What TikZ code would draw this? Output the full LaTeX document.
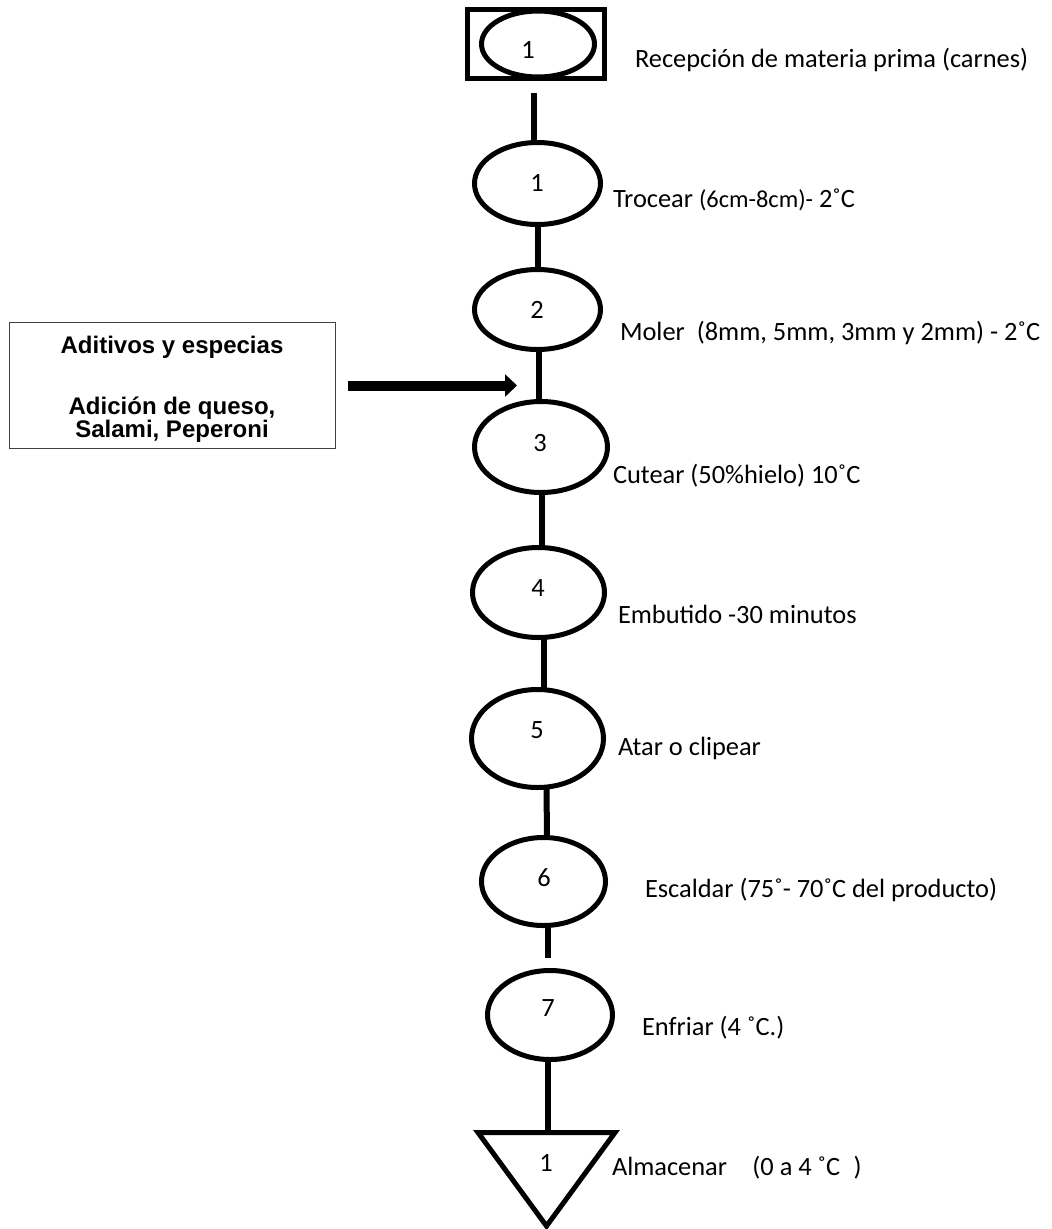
\documentclass[tikz,border=0pt]{standalone}
\usepackage{fontspec}
\setmainfont{Carlito}
\newfontfamily\boxfont{Liberation Sans}
\usetikzlibrary{shapes.geometric,arrows.meta,calc}
\tikzset{
  every node/.style={inner sep=0pt, outer sep=0pt},
  stepell/.style 2 args={ellipse, draw, line width=3.75pt,
    minimum width=#1*0.75pt, minimum height=#2*0.75pt},
  num/.style={font=\fontsize{19.8pt}{24pt}\selectfont},
  lbl/.style={anchor=base west, font=\fontsize{19.8pt}{24pt}\selectfont},
  conn/.style={line width=4.5pt},
  boxtxt/.style={anchor=base, font=\boxfont\bfseries\fontsize{18pt}{20pt}\selectfont},
}
\begin{document}
\begin{tikzpicture}[x=0.75pt,y=-0.75pt]
\useasboundingbox (0,0) rectangle (1052,1229);

% reception symbol
\node[draw, line width=3.75pt, minimum width=137*0.75pt, minimum height=69*0.75pt] (r0) at (536,44) {};
\node[stepell={113}{66}] (e0) at (538,44) {};
\node[num] (n0) at (528,50) {1};
\node[lbl] (l0) at (635,67) {Recepción de materia prima (carnes)};

% process ellipses
\node[stepell={126}{82}] (e1) at (537.5,183.5) {};
\node[stepell={126}{80}] (e2) at (537.5,309.5) {};
\node[stepell={133}{91}] (e3) at (541,447) {};
\node[stepell={132}{90}] (e4) at (538.5,592.5) {};
\node[stepell={132}{98}] (e5) at (537.5,738.5) {};
\node[stepell={124}{88}] (e6) at (543.5,881.5) {};
\node[stepell={125}{89}] (e7) at (550,1015) {};

\node[num] (n1) at (537,183) {1};
\node[num] (n2) at (537,310) {2};
\node[num] (n3) at (540,443) {3};
\node[num] (n4) at (538,588) {4};
\node[num] (n5) at (537,730) {5};
\node[num] (n6) at (544,878) {6};
\node[num] (n7) at (548,1008) {7};

% storage triangle
\coordinate (tl) at (478,1132.5);
\coordinate (tr) at (615,1132.5);
\coordinate (tb) at (546.5,1226);
\coordinate (tritop) at (548,1132.5);
\draw[line width=3.75pt, line join=miter] (tl) -- (tr) -- (tb) -- cycle;
\node[num] (n8) at (546,1163) {1};

% labels
\node[lbl] (l1) at (613,207) {Trocear {\fontsize{18.3pt}{20pt}\selectfont(6cm-8cm)-} 2˚C};
\node[lbl] (l2) at (620,340) {Moler\ \ (8mm, 5mm, 3mm y 2mm) - 2˚C};
\node[lbl] (l3) at (613,483) {Cutear (50\%hielo) 10˚C};
\node[lbl] (l4) at (618,623) {Embutido -30 minutos};
\node[lbl] (l5) at (618,755) {Atar o clipear};
\node[lbl] (l6) at (645,897) {Escaldar (75˚- 70˚C del producto)};
\node[lbl] (l7) at (642,1035) {Enfriar (4 ˚C.)};
\node[lbl] (l8) at (612,1175) {Almacenar\hspace{19pt}(0 a 4 ˚C\hspace{10pt})};

% connectors
\coordinate (c0) at (534,93);
\draw[conn] (c0) -- ($(e1.north)+(-3.5,0)$);
\draw[conn] (e1.south) -- (e2.north);
\draw[conn] ($(e2.south)+(1.5,0)$) -- ($(e3.north)+(-2,0)$);
\draw[conn] ($(e3.south)+(1,0)$) -- ($(e4.north)+(3.5,0)$);
\draw[conn] ($(e4.south)+(5,0)$) -- ($(e5.north)+(6,0)$);
\draw[conn] ($(e5.south)+(9,0)$) -- ($(e6.north)+(3.5,0)$);
\coordinate (c6) at (548,958);
\draw[conn] ($(e6.south)+(4.5,0)$) -- (c6);
\draw[conn] ($(e7.south)+(-2,0)$) -- (tritop);

% additives box
\node[draw=black!75, line width=1.1pt, minimum width=326*0.75pt, minimum height=126*0.75pt] (box) at (172.5,385.5) {};
\node[boxtxt] (bt1) at (172,353) {Aditivos y especias};
\node[boxtxt] (bt2) at (172,414) {Adición de queso,};
\node[boxtxt] (bt3) at (172,437) {Salami, Peperoni};
\coordinate (atip) at (517,385.5);
\draw[line width=7.5pt, -{Triangle[length=9pt,width=16.5pt]}] ($(box.east)+(12,0)$) -- (atip);
\end{tikzpicture}
\end{document}
